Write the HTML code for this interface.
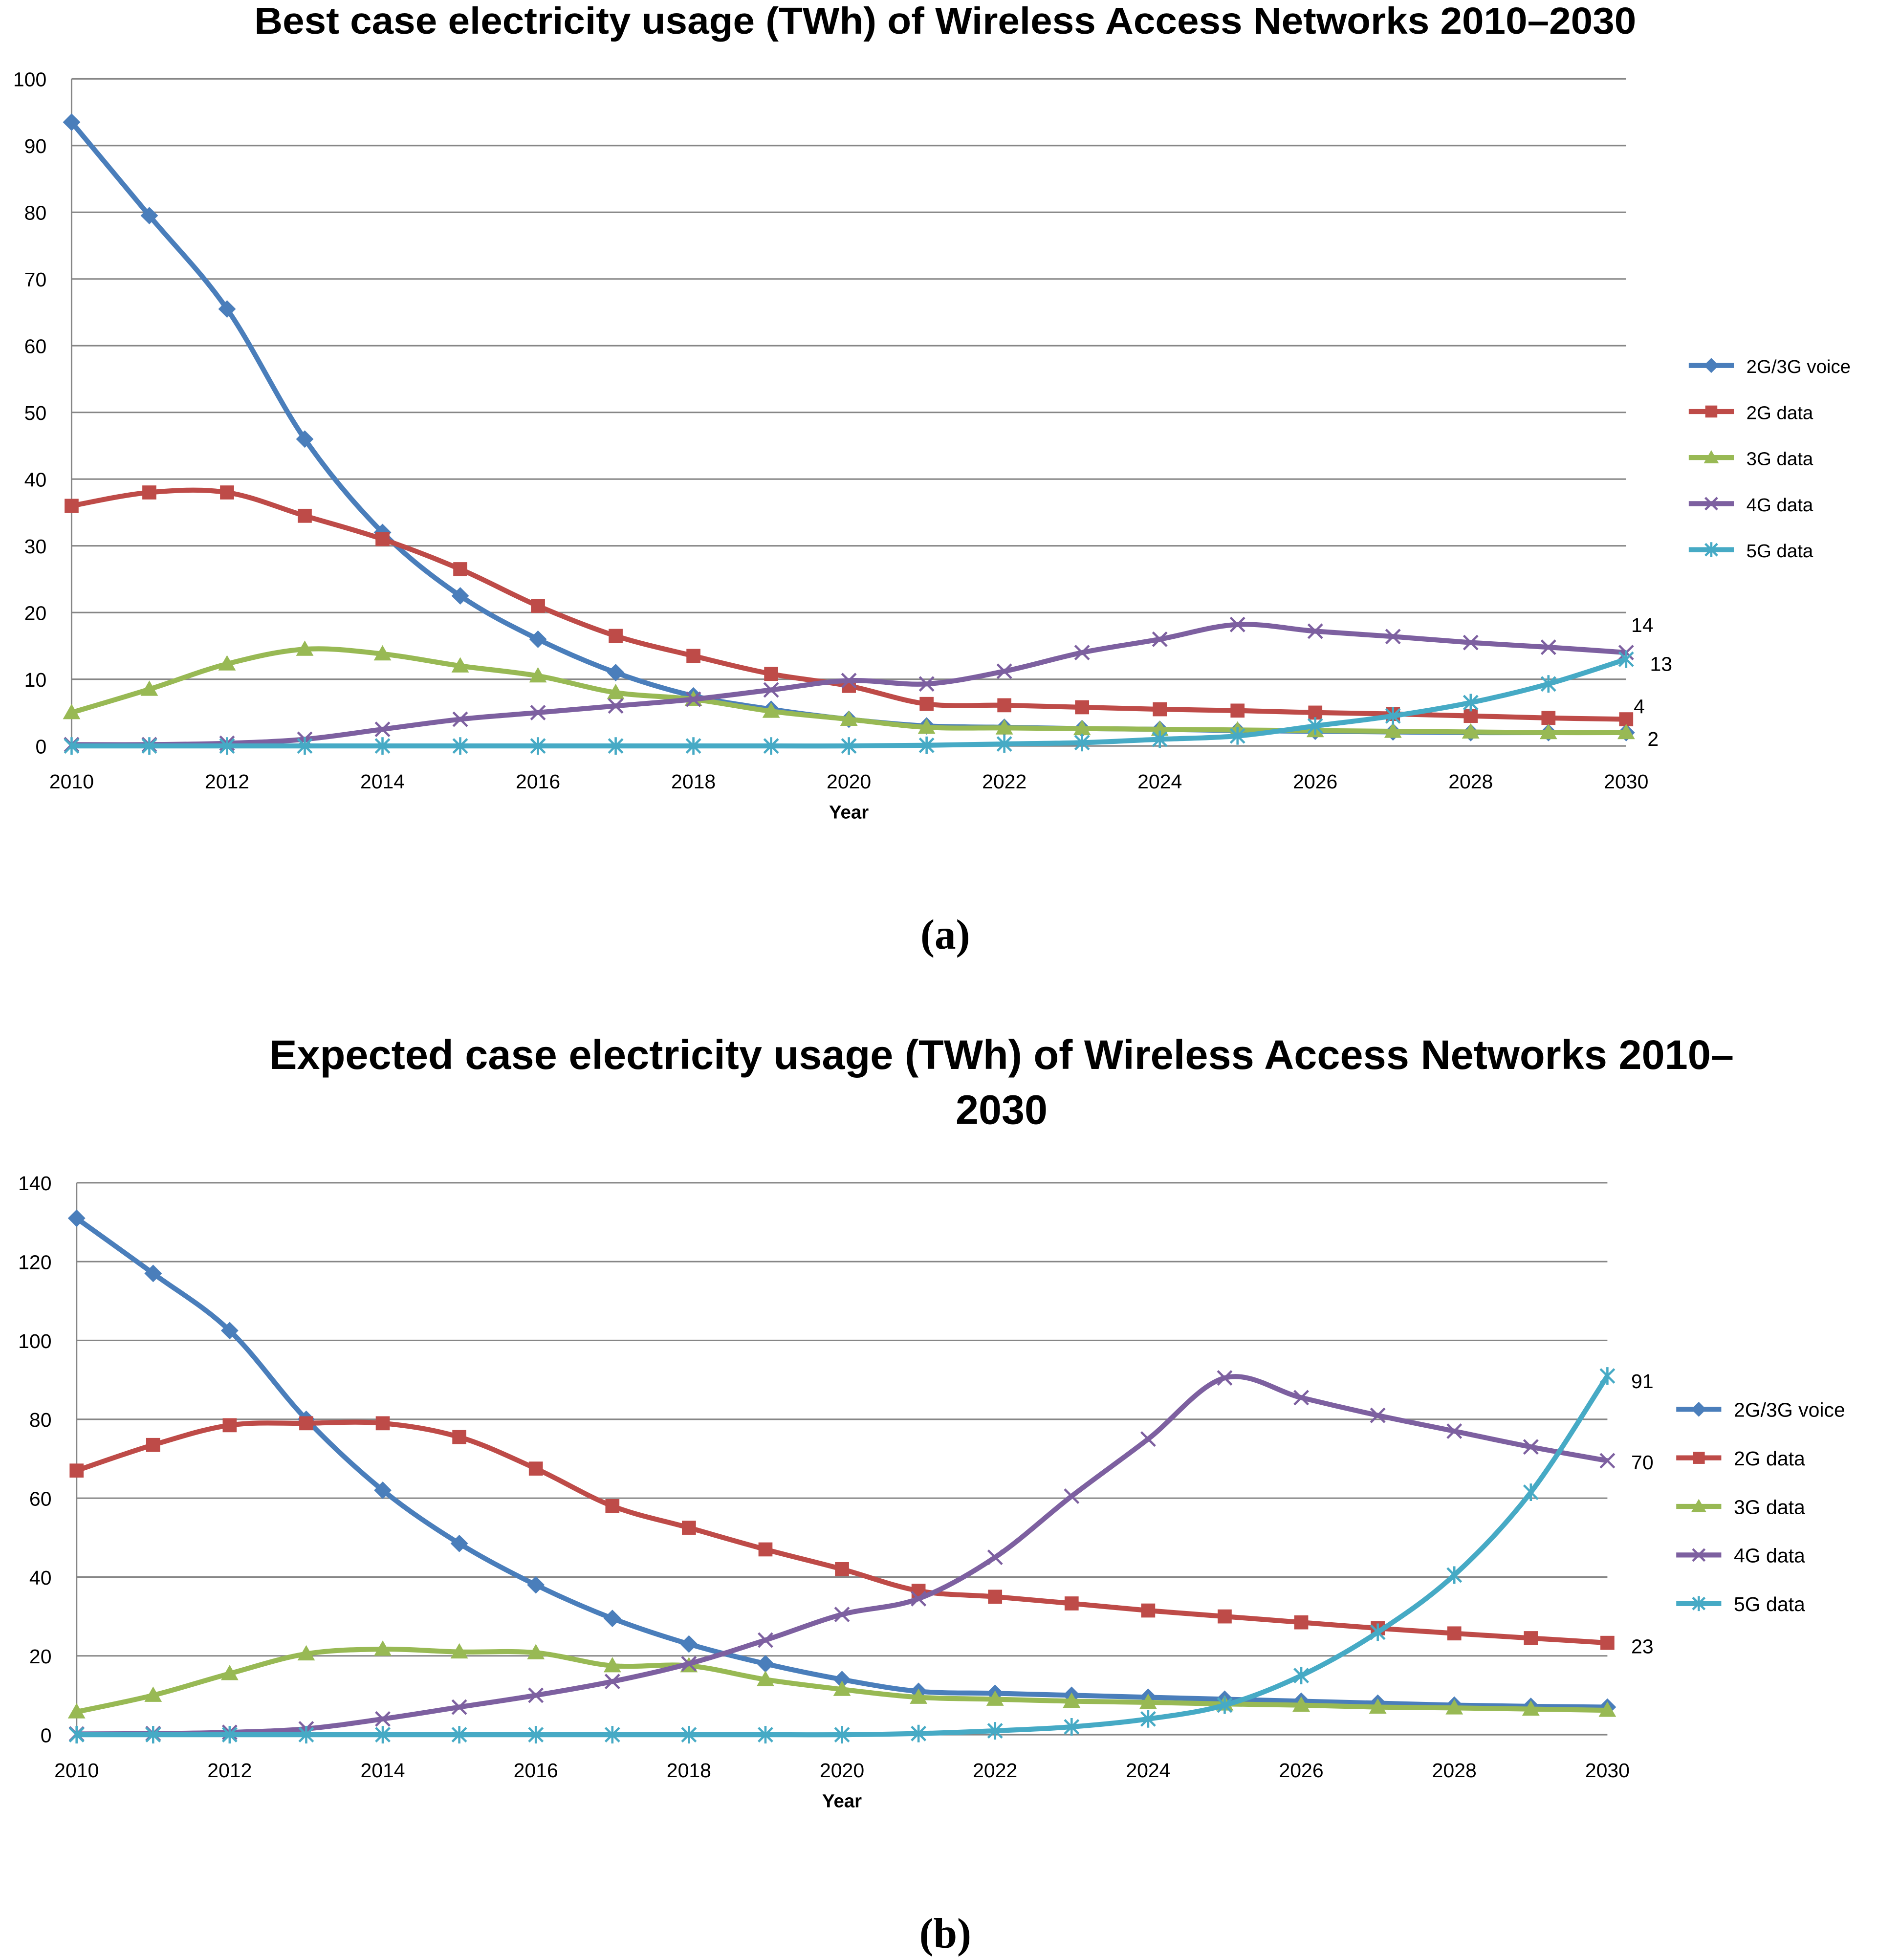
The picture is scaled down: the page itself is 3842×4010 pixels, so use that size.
<!DOCTYPE html>
<html><head><meta charset="utf-8"><style>
html,body{margin:0;padding:0;background:#fff;}
svg{display:block;}
text{font-family:"Liberation Sans",sans-serif;}
text.serif{font-family:"Liberation Serif",serif;}
</style></head><body>
<svg id="root" width="3842" height="4010" viewBox="0 0 1500 1566" xmlns="http://www.w3.org/2000/svg">
<rect width="1500" height="1566" fill="#fff"/>
</svg>
<script>
const years = [2010,2011,2012,2013,2014,2015,2016,2017,2018,2019,2020,2021,2022,2023,2024,2025,2026,2027,2028,2029,2030];
const seriesNames = ["2G/3G voice","2G data","3G data","4G data","5G data"];
const aVoice = [93.5,79.5,65.5,46,32,22.5,16,11,7.5,5.5,4,3,2.8,2.6,2.5,2.3,2.2,2.1,2,2,2];
const a2G = [36,38,38,34.5,31,26.5,21,16.5,13.5,10.8,9,6.3,6.1,5.8,5.5,5.3,5,4.8,4.5,4.2,4];
const a3G = [5,8.5,12.3,14.5,13.8,12,10.5,8,7,5.2,4,2.8,2.7,2.6,2.5,2.4,2.3,2.2,2.1,2,2];
const a4G = [0.2,0.2,0.4,1,2.5,4,5,6,7,8.4,9.8,9.3,11.2,14,16,18.2,17.2,16.4,15.5,14.8,14];
const a5G = [0,0,0,0,0,0,0,0,0,0,0,0.1,0.3,0.5,1,1.5,3,4.5,6.5,9.3,13];
const bVoice = [131,117,102.5,80,62,48.5,38,29.5,23,18,14,11,10.5,10,9.5,9,8.5,8,7.5,7.2,7];
const b2G = [67,73.5,78.5,79,79,75.5,67.5,58,52.5,47,42,36.5,35,33.3,31.5,30,28.5,27,25.7,24.5,23.3];
const b3G = [5.8,10,15.5,20.5,21.7,21,20.8,17.5,17.5,14,11.5,9.5,9,8.5,8.2,7.8,7.5,7,6.8,6.5,6.2];
const b4G = [0.2,0.3,0.6,1.5,4,7,10,13.5,18,24,30.5,34.5,45,60.5,75,90.5,85.5,81,77,73,69.5];
const b5G = [0,0,0,0,0,0,0,0,0,0,0,0.3,1,2,4,7.5,15,26,40.5,61.5,91];
const aTicks = [0,10,20,30,40,50,60,70,80,90,100];
const bTicks = [0,20,40,60,80,100,120,140];
const xTickYears = [2010,2012,2014,2016,2018,2020,2022,2024,2026,2028,2030];
const aEndLabels = [["14",14],["13",13],["4",4],["2",2]];
const bEndLabels = [["91",91],["70",70],["23",23]];

const colors = ["#4a7ebb","#be4b48","#98b954","#7d60a0","#46aac5"];
const markers = ["diamond","square","triangle","x","star"];
const NS = "http://www.w3.org/2000/svg";
const root = document.getElementById('root');
function el(tag, attrs, parent){ const e=document.createElementNS(NS,tag); for(const k in attrs) e.setAttribute(k,attrs[k]); (parent||root).appendChild(e); return e; }
function txt(s, attrs, parent){ const e=el('text',attrs,parent); e.textContent=s; return e; }

function smoothPath(pts){
  let d = `M${pts[0][0]},${pts[0][1]}`;
  for(let i=0;i<pts.length-1;i++){
    const p0=pts[Math.max(0,i-1)],p1=pts[i],p2=pts[i+1],p3=pts[Math.min(pts.length-1,i+2)];
    const t=0.5/3;
    const c1=[p1[0]+(p2[0]-p0[0])*t,p1[1]+(p2[1]-p0[1])*t];
    const c2=[p2[0]-(p3[0]-p1[0])*t,p2[1]-(p3[1]-p1[1])*t];
    d+=` C${c1[0]},${c1[1]} ${c2[0]},${c2[1]} ${p2[0]},${p2[1]}`;
  }
  return d;
}
function marker(g,type,x,y,c,s){
  let m;
  if(type==="diamond") m=el('polygon',{points:`${x},${y-s} ${x+s},${y} ${x},${y+s} ${x-s},${y}`,fill:c},g);
  else if(type==="square") m=el('rect',{x:x-s*0.8,y:y-s*0.8,width:s*1.6,height:s*1.6,fill:c},g);
  else if(type==="triangle") m=el('polygon',{points:`${x},${y-s} ${x+s},${y+s*0.75} ${x-s},${y+s*0.75}`,fill:c},g);
  else if(type==="x") m=el('path',{d:`M${x-s*0.8},${y-s*0.8}L${x+s*0.8},${y+s*0.8}M${x+s*0.8},${y-s*0.8}L${x-s*0.8},${y+s*0.8}`,stroke:c,'stroke-width':1.8,fill:'none'},g);
  else m=el('path',{d:`M${x-s*0.8},${y-s*0.8}L${x+s*0.8},${y+s*0.8}M${x+s*0.8},${y-s*0.8}L${x-s*0.8},${y+s*0.8}M${x},${y-s}L${x},${y+s}`,stroke:c,'stroke-width':1.8,fill:'none'},g);
  return m;
}

function chart(cfg){
  const g = el('g',{});
  
  
  const xs = yr => cfg.x0 + (yr-2010)/20*(cfg.x1-cfg.x0);
  const ys = v => cfg.y0 - v/cfg.max*(cfg.y0-cfg.y1);
  cfg.ticks.forEach(t=>{
    const l = el('line',{x1:cfg.x0,x2:cfg.x1,y1:ys(t),y2:ys(t),stroke:'#868686','stroke-width':1.2},g);
    
    
    const tl = txt(String(t),{x:cfg.x0-20,y:ys(t)+6,'text-anchor':'end','font-size':16},g);
    
    
  });
  const ax = el('line',{x1:cfg.x0,x2:cfg.x0,y1:cfg.y1,y2:cfg.y0,stroke:'#868686','stroke-width':1.2},g);
  
  
  xTickYears.forEach(yr=>{
    const tl = txt(String(yr),{x:xs(yr),y:cfg.y0+34,'text-anchor':'middle','font-size':16},g);
    
    
  });
  const xt = txt('Year',{x:(cfg.x0+cfg.x1)/2,y:cfg.y0+58,'text-anchor':'middle','font-size':15,'font-weight':'bold'},g);
  
  
  cfg.series.forEach((vals,i)=>{
    const sg = el('g',{},g);
    
    
    const pts = vals.map((v,j)=>[xs(years[j]),ys(v)]);
    el('path',{d:smoothPath(pts),fill:'none',stroke:colors[i],'stroke-width':4,'stroke-linejoin':'round'},sg);
    pts.forEach(p=>{
      const m = marker(sg,markers[i],p[0],p[1],colors[i],7);
      
      
    });
  });
  cfg.endLabels.forEach((lb,k)=>{
    const t = txt(lb[0],{x:cfg.lblX[k],y:cfg.lblY[k],'font-size':16},g);
    
    
  });
  seriesNames.forEach((n,i)=>{
    const y = cfg.legY + i*cfg.legDy;
    const lg = el('g',{},g);
    
    
    el('line',{x1:cfg.legX,x2:cfg.legX+36,y1:y,y2:y,stroke:colors[i],'stroke-width':4},lg);
    marker(lg,markers[i],cfg.legX+18,y,colors[i],6);
    txt(n,{x:cfg.legX+46,y:y+6,'font-size':cfg.legFont},lg);
  });
}

chart({name:'chart-a',x0:57,x1:1299,y0:596,y1:63,max:100,ticks:aTicks,
  series:[aVoice,a2G,a3G,a4G,a5G],endLabels:aEndLabels,
  lblX:[1303,1318,1305,1316],lblY:[505,536,570,596],
  legX:1349,legY:292,legDy:36.8,legFont:15});
chart({name:'chart-b',x0:61,x1:1284,y0:1386,y1:945,max:140,ticks:bTicks,
  series:[bVoice,b2G,b3G,b4G,b5G],endLabels:bEndLabels,
  lblX:[1303,1303,1303],lblY:[1109,1174,1321],
  legX:1339,legY:1126,legDy:38.8,legFont:16});

let t;
t = txt('Best case electricity usage (TWh) of Wireless Access Networks 2010\u20132030',{x:755,y:27,'text-anchor':'middle','font-size':30,'font-weight':'bold',textLength:1104,lengthAdjust:'spacingAndGlyphs'});
 
t = txt('Expected case electricity usage (TWh) of Wireless Access Networks 2010\u2013',{x:800,y:854,'text-anchor':'middle','font-size':33,'font-weight':'bold',textLength:1170,lengthAdjust:'spacingAndGlyphs'});
 
t = txt('2030',{x:800,y:898,'text-anchor':'middle','font-size':33,'font-weight':'bold'});
 
t = txt('(a)',{x:755,y:758,'text-anchor':'middle','font-size':34,'font-weight':'bold','class':'serif'});
 
t = txt('(b)',{x:755,y:1556,'text-anchor':'middle','font-size':34,'font-weight':'bold','class':'serif'});
 
</script>
</body></html>
